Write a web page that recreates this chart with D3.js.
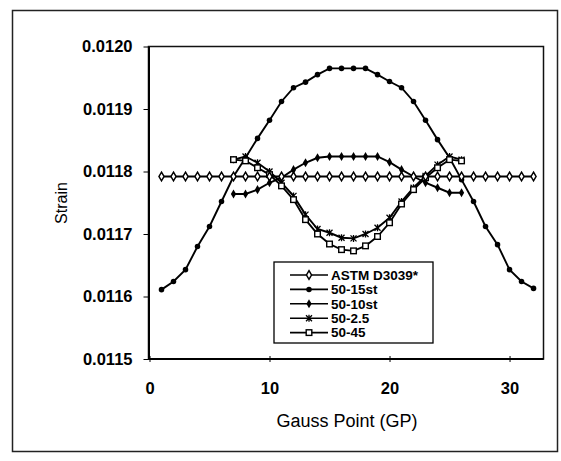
<!DOCTYPE html>
<html><head><meta charset="utf-8">
<script src="https://cdn.jsdelivr.net/npm/d3@7"></script>
<style>body{margin:0;background:#fff}</style>
</head><body>
<svg id="c" width="561" height="461"></svg>
<script>
const gpFull=[1,2,3,4,5,6,7,8,9,10,11,12,13,14,15,16,17,18,19,20,21,22,23,24,25,26,27,28,29,30,31,32];
const gpMid=[7,8,9,10,11,12,13,14,15,16,17,18,19,20,21,22,23,24,25,26];
const astm=[0.011792,0.011792,0.011792,0.011792,0.011792,0.011792,0.011792,0.011792,0.011792,0.011792,0.011792,0.011792,0.011792,0.011792,0.011792,0.011792,0.011792,0.011792,0.011792,0.011792,0.011792,0.011792,0.011792,0.011792,0.011792,0.011792,0.011792,0.011792,0.011792,0.011792,0.011792,0.011792];
const s15=[0.011611,0.011624,0.011643,0.011680,0.011712,0.011752,0.011792,0.011822,0.011853,0.011882,0.011912,0.011934,0.011943,0.011955,0.011965,0.011965,0.011965,0.011965,0.011955,0.011944,0.011934,0.011912,0.011882,0.011851,0.011822,0.011787,0.011752,0.011712,0.011683,0.011643,0.011624,0.011613];
const s10=[0.011764,0.011764,0.011771,0.011782,0.011790,0.011803,0.011814,0.011822,0.011824,0.011824,0.011824,0.011824,0.011824,0.011815,0.011803,0.011792,0.011782,0.011774,0.011766,0.011766];
const s25=[0.011819,0.011824,0.011814,0.011800,0.011782,0.011761,0.011731,0.011708,0.011702,0.011694,0.011693,0.011700,0.011710,0.011726,0.011752,0.011774,0.011793,0.011811,0.011824,0.011819];
const s45=[0.011819,0.011817,0.011806,0.011795,0.011777,0.011755,0.011723,0.011700,0.011684,0.011675,0.011673,0.011681,0.011696,0.011718,0.011748,0.011771,0.011790,0.011806,0.011819,0.011817];
const seriesNames=["ASTM D3039*","50-15st","50-10st","50-2.5","50-45"];
const xTicks=[0,10,20,30];
const yTicks=[0.0115,0.0116,0.0117,0.0118,0.0119,0.0120];

const svg=d3.select("#c");
const L=148.5,R=543.5,T=46.5,B=359;
const FONT="Liberation Sans, Arial, sans-serif";
const x=d3.scaleLinear().domain([0,32.83]).range([149.5,R]);
const y=d3.scaleLinear().domain([0.0115,0.0120]).range([B,T]);

svg.append("rect").attr("x",12.5).attr("y",10.5).attr("width",545).attr("height",441)
  .attr("fill","none").attr("stroke","#222").attr("stroke-width",1.5);
svg.append("rect").attr("x",L).attr("y",T).attr("width",R-L).attr("height",B-T)
  .attr("fill","none").attr("stroke","#111").attr("stroke-width",1.5);

const yAxis=svg.append("g").attr("transform",`translate(${L},0)`)
  .call(d3.axisLeft(y).tickValues(yTicks).tickFormat(d3.format(".4f")).tickSizeInner(5).tickSizeOuter(0).tickPadding(11));
yAxis.select(".domain").attr("stroke","#000").attr("stroke-width",2);
yAxis.selectAll("text").attr("font-family",FONT).attr("font-size",16.5).attr("font-weight","bold").attr("fill","#000");

const xAxis=svg.append("g").attr("transform",`translate(0,${B})`)
  .call(d3.axisBottom(x).tickValues(xTicks).tickFormat(d3.format("d")).tickSizeInner(4).tickSizeOuter(0).tickPadding(0));
xAxis.select(".domain").attr("stroke","#000").attr("stroke-width",2).attr("d",`M${L},0H${R}`);
xAxis.selectAll(".tick line").attr("y1",-3).attr("y2",3);
xAxis.selectAll("text").attr("y",35).attr("dy",0).attr("font-family",FONT).attr("font-size",16.5).attr("font-weight","bold").attr("fill","#000");

svg.append("text").attr("x",347).attr("y",427).attr("text-anchor","middle")
  .attr("font-family",FONT).attr("font-size",18).text("Gauss Point (GP)");
svg.append("text").attr("transform","translate(67,203) rotate(-90)").attr("text-anchor","middle")
  .attr("font-family",FONT).attr("font-size",16).text("Strain");

const markers={
  openDiamond:(g)=>g.append("path").attr("d",d3.symbol(d3.symbolDiamond,22)()).attr("fill","#fff").attr("stroke","#000").attr("stroke-width",1.5),
  filledCircle:(g)=>g.append("path").attr("d",d3.symbol(d3.symbolCircle,24)()).attr("fill","#000"),
  filledDiamond:(g)=>g.append("path").attr("d",d3.symbol(d3.symbolDiamond,24)()).attr("fill","#000"),
  star:(g)=>g.append("path").attr("d","M-3,-3L3,3M-3,3L3,-3M0,-3.5L0,3.5").attr("fill","none").attr("stroke","#000").attr("stroke-width",1.3),
  openSquare:(g)=>g.append("rect").attr("x",-2.8).attr("y",-2.8).attr("width",5.6).attr("height",5.6).attr("fill","#fff").attr("stroke","#000").attr("stroke-width",1.4)
};
const series=[
  {name:seriesNames[1],xs:gpFull,ys:s15,m:"filledCircle"},
  {name:seriesNames[2],xs:gpMid,ys:s10,m:"filledDiamond"},
  {name:seriesNames[3],xs:gpMid,ys:s25,m:"star"},
  {name:seriesNames[4],xs:gpMid,ys:s45,m:"openSquare"},
  {name:seriesNames[0],xs:gpFull,ys:astm,m:"openDiamond"}
];
const line=d3.line().x(d=>x(d[0])).y(d=>y(d[1]));
series.forEach(s=>{
  const pts=s.xs.map((v,i)=>[v,s.ys[i]]);
  svg.append("path").attr("d",line(pts)).attr("fill","none").attr("stroke","#000").attr("stroke-width",1.9);
  pts.forEach(p=>{
    const g=svg.append("g").attr("transform",`translate(${x(p[0])},${y(p[1])})`);
    markers[s.m](g);
  });
});

const lg=svg.append("g");
lg.append("rect").attr("x",274).attr("y",262).attr("width",159).attr("height",81)
  .attr("fill","#fff").attr("stroke","#000").attr("stroke-width",1.3);
const legendMarkers=["openDiamond","filledCircle","filledDiamond","star","openSquare"];
seriesNames.forEach((n,i)=>{
  const cy=275+i*14.4;
  lg.append("line").attr("x1",290).attr("x2",328).attr("y1",cy).attr("y2",cy).attr("stroke","#000").attr("stroke-width",1.6);
  const g=lg.append("g").attr("transform",`translate(309,${cy})`);
  markers[legendMarkers[i]](g);
  lg.append("text").attr("x",331).attr("y",cy).attr("dy","0.36em")
    .attr("font-family",FONT).attr("font-size",13.5).attr("font-weight","bold").text(n);
});
</script>
</body></html>
